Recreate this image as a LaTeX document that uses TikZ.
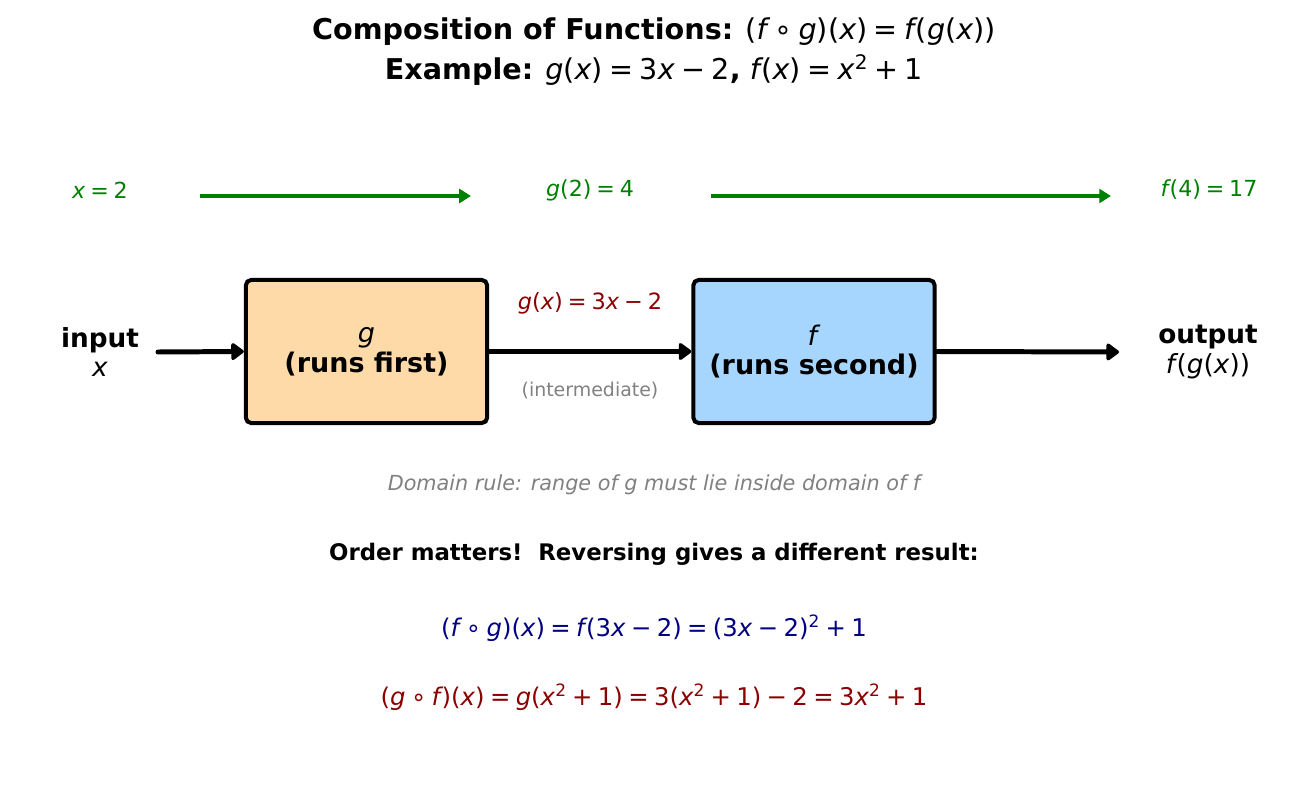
\documentclass[tikz,border=0pt]{standalone}
\usepackage{fontspec}
\setmainfont{DejaVu Sans}
\usepackage{xcolor}
\usetikzlibrary{arrows.meta,calc}
\definecolor{gboxfill}{RGB}{254,218,168}
\definecolor{fboxfill}{RGB}{166,214,254}
\definecolor{flowgreen}{RGB}{0,128,0}
\definecolor{darkred}{RGB}{139,0,0}
\definecolor{navyblue}{RGB}{0,0,128}
% italic letters and spaced operators, mathtext look
\newcommand{\vi}[1]{\textit{#1}}
\newcommand{\vf}{\textit{f}\kern-0.07em}
\newcommand{\eq}{\kern0.22em=\kern0.22em}
\newcommand{\mn}{\kern0.22em−\kern0.22em}
\newcommand{\pl}{\kern0.22em+\kern0.22em}
\newcommand{\sq}{\textsuperscript{2}}
\newcommand{\fsz}[1]{\fontsize{#1}{1.15\dimexpr#1pt\relax}\selectfont}

\begin{document}
\begin{tikzpicture}[x=0.0254cm, y=-0.0254cm,
        fbox/.style={draw, rounded corners=4pt, align=center, minimum width=174.5pt,
                     minimum height=103.5pt, line width=2.9pt,
                     font=\fontsize{19.5}{21.6}\selectfont},
        lbl/.style={align=center, font=\fontsize{19}{21.6}\selectfont},
        flow/.style={font=\fontsize{16}{18}\selectfont, text=flowgreen},
        arr/.style={-{Triangle[length=10pt,width=14pt,round]}, line width=3.6pt, line cap=round},
        garr/.style={-{Triangle[length=8.5pt,width=10pt]}, line width=2.2pt, draw=flowgreen}
    ]
    \useasboundingbox (0,0) rectangle (1308,800);
    \node[align=center, font=\fontsize{20.7}{28.8}\selectfont] (ttl) at (654,52) {%
      \textbf{Composition of Functions:} (\vf\kern0.22em∘\kern0.22em\vi{g})(\vi{x})\eq\vf(\vi{g}(\vi{x}))\\
      \textbf{Example:} \vi{g}(\vi{x})\eq3\vi{x}\mn2\textbf{,} \vf(\vi{x})\eq\vi{x}\sq\pl1%
    };
    % numeric trace
    \node[flow] (x0) at (100,190) {\vi{x}\eq2};
    \node[flow] (g2) at (590,190) {\vi{g}(2)\eq4};
    \node[flow] (f4) at (1209,190) {\vf(4)\eq17};
    \coordinate (a1) at (200,196);
    \coordinate (b1) at (471,196);
    \coordinate (a2) at (711,196);
    \coordinate (b2) at (1111,196);
    \draw[garr] (a1) -- (b1);
    \draw[garr] (a2) -- (b2);
    % machines
    \node[lbl] (inp) at (100,352) {\textbf{input}\\\vi{x}};
    \node[fbox, fill=gboxfill] (gbx) at (366.5,351.5) {\vi{g}\\\textbf{(runs first)}};
    \node[fbox, fill=fboxfill] (fbx) at (814,351.5) {\vi{f}\\\textbf{(runs second)}};
    \node[lbl] (out) at (1208,352) {\textbf{output}\\\vf(\vi{g}(\vi{x}))};
    \coordinate (ins) at (158,352);
    \coordinate (oute) at (1119,352);
    \draw[arr] (ins) -- (gbx.west);
    \draw[arr] (gbx.east) -- (fbx.west);
    \draw[arr] (fbx.east) -- (oute);
    \node[font=\fsz{16.2}, text=darkred] (gdef) at (590,303) {\vi{g}(\vi{x})\eq3\vi{x}\mn2};
    \node[font=\fsz{13.7}, text=gray] (mid) at (590,391) {(intermediate)};
    % notes
    \node[font=\fsz{15}\itshape, text=gray] (dom) at (654,485) {Domain rule: range of g must lie inside domain of f};
    \node[font=\fsz{16.5}\bfseries] (ord) at (654,554) {Order matters!\ \ Reversing gives a different result:};
    \node[font=\fsz{17.6}, text=navyblue] (fog) at (654,628) {%
      (\vf\kern0.22em∘\kern0.22em\vi{g})(\vi{x})\eq\vf(3\vi{x}\mn2)\eq(3\vi{x}\mn2)\sq\pl1};
    \node[font=\fsz{17.6}, text=darkred] (gof) at (654,697) {%
      (\vi{g}\kern0.22em∘\kern0.22em\vf)(\vi{x})\eq\vi{g}(\vi{x}\sq\pl1)\eq3(\vi{x}\sq\pl1)\mn2\eq3\vi{x}\sq\pl1};
\end{tikzpicture}
\end{document}
